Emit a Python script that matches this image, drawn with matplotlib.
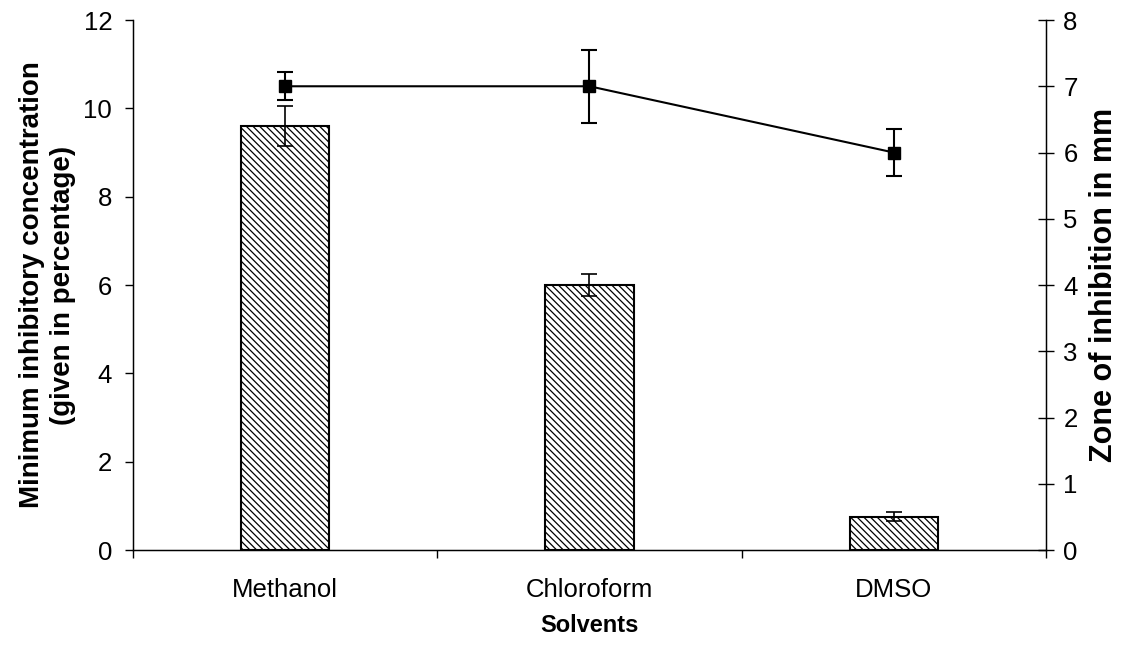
import numpy as np
import matplotlib.pyplot as plt

plt.rcParams['font.family'] = ['Liberation Sans', 'DejaVu Sans']
plt.rcParams['hatch.linewidth'] = 0.9

# data
solvents = ['Methanol', 'Chloroform', 'DMSO']
mic = [9.6, 6.0, 0.75]          # minimum inhibitory concentration (%)
mic_err = [0.45, 0.25, 0.1]
zone = [7.0, 7.0, 6.0]          # zone of inhibition (mm)
zone_err = [0.21, 0.55, 0.35]

x = np.arange(len(solvents))

fig = plt.figure(figsize=(11.23, 6.5), dpi=100)
ax = fig.add_axes([0.1184, 0.1538, 0.8130, 0.8154])

ax.bar(x, mic, width=0.29, color='white', edgecolor='black', linewidth=1.5,
       hatch='\\\\\\\\\\', zorder=2)
ax.errorbar(x, mic, yerr=mic_err, fmt='none', ecolor='black', elinewidth=1.2,
            capsize=6, capthick=1.2, zorder=3)

ax.set_xlim(-0.5, 2.5)
ax.set_ylim(0, 12)
ax.set_yticks(np.arange(0, 13, 2))
ax.set_xticks(x)
ax.set_xticklabels(solvents)
ax.set_xticks([-0.5, 0.5, 1.5, 2.5], minor=True)
ax.tick_params(axis='x', which='major', length=0, pad=20, labelsize=18.5)
ax.tick_params(axis='x', which='minor', length=6, width=1, direction='out')
ax.tick_params(axis='y', length=6, width=1, direction='out', labelsize=18.5, pad=9)
ax.spines['top'].set_visible(False)
for s in ['left', 'bottom', 'right']:
    ax.spines[s].set_linewidth(1.0)

ax.set_xlabel('Solvents', fontsize=17, fontweight='bold', labelpad=9)
ax.set_ylabel('Minimum inhibitory concentration\n(given in percentage)',
              fontsize=20, fontweight='bold', labelpad=5, linespacing=1.25)

ax2 = ax.twinx()
ax2.errorbar(x, zone, yerr=zone_err, color='black', linewidth=1.5,
             marker='s', markersize=8, elinewidth=1.5, capsize=6, capthick=1.5)
ax2.set_ylim(0, 8)
ax2.set_yticks(np.arange(0, 9, 1))
ax2.tick_params(axis='y', length=11, width=1, direction='inout', labelsize=18.5, pad=7)
ax2.spines['top'].set_visible(False)
ax2.set_ylabel('Zone of inhibition in mm', fontsize=22, fontweight='bold', labelpad=8)

fig.savefig('out.png', dpi=100)
